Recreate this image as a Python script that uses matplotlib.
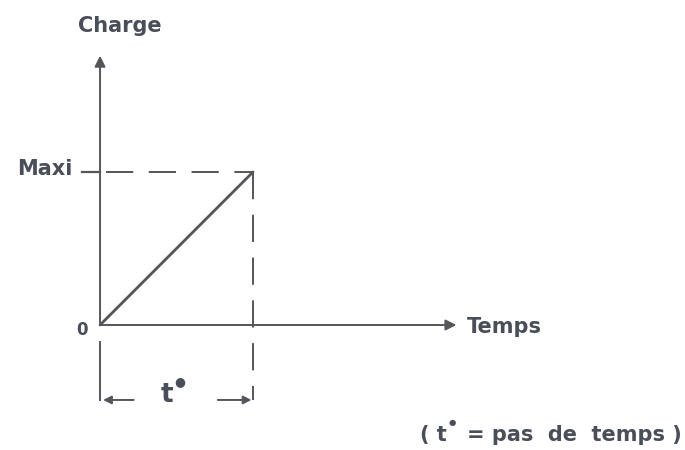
import matplotlib
matplotlib.use("Agg")
import matplotlib.pyplot as plt

# Data (normalised units: one time step t* = 1, Maxi = 1)
time = [0.0, 1.0]
charge = [0.0, 1.0]
t_step = 1.0
maxi = 1.0
labels = {"y": "Charge", "x": "Temps", "max": "Maxi", "zero": "0",
          "step": "t", "note_a": "( t", "note_b": "= pas  de  temps )"}

ink = "#55565a"
txt = "#4a4e58"
font = dict(family="DejaVu Sans", weight="bold", color=txt)

fig = plt.figure(figsize=(6.85, 4.5), dpi=100)
ax = fig.add_axes([0, 0, 1, 1])
ax.set_xlim(-0.654, 3.824)
ax.set_ylim(-0.817, 2.124)
ax.axis("off")

# axes with arrows
ax.annotate("", xy=(2.33, 0), xytext=(0, 0),
            arrowprops=dict(arrowstyle="-|>", color=ink, lw=1.4,
                            mutation_scale=16, shrinkA=0, shrinkB=0))
ax.annotate("", xy=(0, 1.76), xytext=(0, 0),
            arrowprops=dict(arrowstyle="-|>", color=ink, lw=1.4,
                            mutation_scale=16, shrinkA=0, shrinkB=0))

# load ramp
ax.plot(time, charge, color=ink, lw=2.0, solid_capstyle="round")

# Maxi tick and dashed guides
ax.plot([-0.12, 0], [maxi, maxi], color=ink, lw=1.6)
ax.plot([0.04, t_step], [maxi, maxi], color=ink, lw=1.4, dashes=(14, 8))
ax.plot([t_step, t_step], [maxi, -0.49], color=ink, lw=1.4, dashes=(14, 8))

# bracket below for time step
ax.plot([0, 0], [-0.11, -0.49], color=ink, lw=1.4)
ax.annotate("", xy=(0.02, -0.49), xytext=(0.22, -0.49),
            arrowprops=dict(arrowstyle="-|>", color=ink, lw=1.4,
                            mutation_scale=12, shrinkA=0, shrinkB=0))
ax.annotate("", xy=(t_step - 0.01, -0.49), xytext=(t_step - 0.23, -0.49),
            arrowprops=dict(arrowstyle="-|>", color=ink, lw=1.4,
                            mutation_scale=12, shrinkA=0, shrinkB=0))

# texts
ax.text(0.131, 1.954, labels["y"], ha="center", va="center", fontsize=15, **font)
ax.text(2.40, -0.01, labels["x"], ha="left", va="center", fontsize=15, **font)
ax.text(-0.183, 1.02, labels["max"], ha="right", va="center", fontsize=15, **font)
ax.text(-0.08, -0.033, labels["zero"], ha="right", va="center", fontsize=12, **font)
ax.text(0.44, -0.46, labels["step"], ha="center", va="center", fontsize=19, **font)
ax.text(0.52, -0.37, "\u25CF", ha="center", va="center", fontsize=9, **font)
ax.text(2.09, -0.72, labels["note_a"], ha="left", va="center", fontsize=15, **font)
ax.text(2.30, -0.64, "\u25CF", ha="center", va="center", fontsize=6, **font)
ax.text(2.40, -0.72, labels["note_b"], ha="left", va="center", fontsize=15, **font)

fig.savefig("out.png", dpi=100)
